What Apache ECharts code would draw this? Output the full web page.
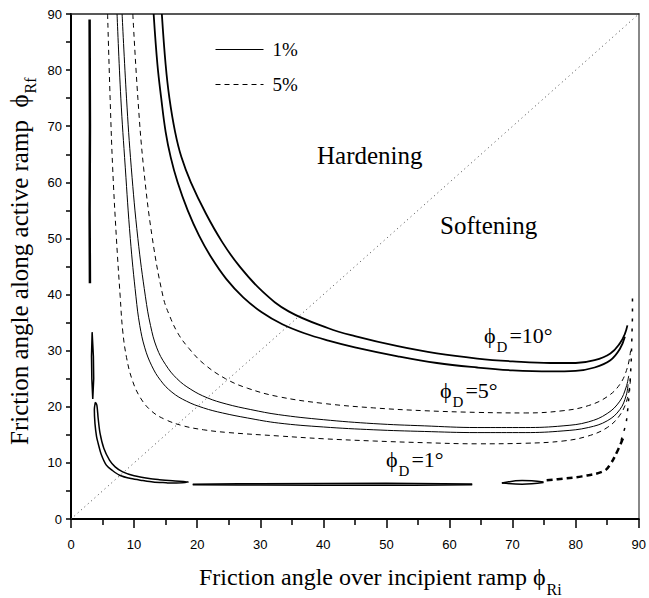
<!DOCTYPE html>
<html><head><meta charset="utf-8">
<script src="https://cdn.jsdelivr.net/npm/echarts@6/dist/echarts.min.js"></script>
<style>html,body{margin:0;padding:0;background:#fff}#c{width:649px;height:598px}</style>
</head><body><div id="c"></div><script>
// ---- axis ticks ----
const axisTickValues = [0,10,20,30,40,50,60,70,80,90];

// ---- phi_D = 10 deg (two bold solid curves) ----
const phi10Inner = [[13.1,90],[13.7,81],[14.3,75],[15.0,69],[15.8,64.5],[16.9,60],[18.5,55],[20.3,50.5],[22.3,46.5],[24.6,42.8],[27.3,39.5],[30.3,36.8],[33.5,34.7],[37,33.1],[40.8,31.8],[45,30.6],[51.8,29.0],[58,27.8],[64.4,27.0],[70,26.5],[76,26.3],[80,26.4],[83,27],[85.5,28.3],[87,30.3],[87.8,32.5]];
const phi10Outer = [[14.4,90],[15.0,81],[15.6,75],[16.5,69],[17.5,64.5],[19,60],[21.4,54.4],[24,49.3],[26.6,45.2],[30.3,40.6],[34.5,37.0],[40.8,34.0],[45,32.6],[51.8,30.8],[58,29.5],[64.4,28.6],[70,28.1],[76,27.8],[80,27.8],[83,28.3],[85.5,29.5],[87,31.3],[87.8,33],[88.2,34.5]];

// ---- phi_D = 5 deg ----
const phi5SolidL = [[7.3,90],[7.9,75],[8.6,62.7],[9.4,50],[10.3,39.6],[10.9,34.5],[11.7,30.5],[12.8,27.3],[14.2,24.7],[16,22.6],[18.3,21.0],[21,19.8],[24,18.9],[28,18.0],[32.9,17.1],[40,16.4],[48,15.9],[56,15.6],[64.4,15.4],[72,15.4],[78,15.7],[82,16.3],[85,17.5],[87,19.5],[88,22],[88.3,24]];
const phi5SolidR = [[8.1,90],[8.8,75],[9.55,62.7],[10.6,50],[11.8,39.6],[12.6,34.5],[13.6,30.5],[15,27.5],[16.8,25],[19,23.1],[21.6,21.6],[24.6,20.5],[28.5,19.5],[32.9,18.6],[40,17.7],[48,17.0],[56,16.6],[64.4,16.3],[72,16.3],[78,16.6],[82,17.3],[85,18.8],[87,21],[88,23.5],[88.4,25.5]];
const phi5DashL = [[5.8,90],[6.2,75],[6.6,62.7],[7.2,50],[7.8,39.6],[8.2,33.5],[8.8,28.8],[9.7,24.8],[11,21.6],[12.8,19.2],[15,17.7],[17.8,16.6],[21,15.9],[25,15.4],[32.9,14.8],[40,14.3],[48,13.9],[56,13.6],[64.4,13.4],[72,13.5],[78,13.9],[82,14.8],[85,16.3],[87,18.5],[88.2,21.5],[88.7,25]];
const phi5DashR = [[9.8,90],[10.6,75],[11.5,62.7],[12.9,50],[14.6,39.6],[15.6,36.3],[17,33],[18.7,30.4],[21,27.7],[24.5,25.0],[28,23.3],[32.9,21.8],[40,20.6],[48,19.8],[56,19.3],[64.4,19.0],[72,18.9],[78,19.3],[82,20.2],[85,21.8],[87,24],[88.2,27],[88.7,30]];

// ---- phi_D = 1 deg ----
const phi1Sliver = [[3.0,42],[2.95,55],[3.0,70],[2.95,89]];
const phi1SmallLoop = [[3.45,21.4],[3.3,25],[3.25,29],[3.35,33.3],[3.55,29],[3.6,25],[3.45,21.4]];
const phi1Loop = [[3.85,20.8],[4.1,20.3],[4.3,18],[4.6,15.3],[5.2,12.6],[6.1,10.5],[7,9.3],[8.2,8.4],[10,7.7],[12.4,7.2],[14,7],[16.1,6.8],[18.6,6.6],[16,6.4],[15.1,6.45],[13,6.6],[11.4,6.85],[9.5,7.2],[7.7,7.8],[6.5,8.7],[5.6,9.6],[4.8,11.5],[4.3,13.5],[4.05,14.7],[3.8,17],[3.7,19.5],[3.85,20.8]];
const phi1FlatUpper = [[19.3,6.2],[30,6.3],[50,6.35],[63.6,6.25]];
const phi1FlatLower = [[19.3,6.1],[30,6.05],[50,6.0],[63.6,6.1]];
const phi1RightUpper = [[68.3,6.4],[71.5,6.85],[74.9,6.6]];
const phi1RightLower = [[68.3,6.4],[71.5,6.2],[74.9,6.5]];
const phi1Dashes = [[75.4,6.9],[78,7.2],[81,7.6],[84.4,8.5],[85.4,9.6],[86.7,12.3],[87.5,14.4]];
const edgeBits = [[87.2,14],[88,17],[88.3,20],[88.6,24],[88.8,28],[88.9,32],[89,36],[89,40.5]];
const diagonal = [[0,0],[90,90]];

const SERIF = "'Liberation Serif','Times New Roman','DejaVu Serif',serif";
const SANS = "'Liberation Sans',Arial,sans-serif";

function ln(name, data, width, type, extra) {
  return Object.assign({
    type: 'line', name: name, data: data, showSymbol: false, symbol: 'none',
    smooth: 0.4, animation: false, silent: true,
    lineStyle: { color: '#000', width: width, type: type || 'solid' },
    itemStyle: { color: '#000' }
  }, extra || {});
}

const series = [
  ln('1%', phi5SolidL, 1),
  ln('5%', phi5DashL, 1, [5, 4]),
  ln('1%', phi5SolidR, 1),
  ln('5%', phi5DashR, 1, [5, 4]),
  ln('1%', phi10Inner, 1.8),
  ln('1%', phi10Outer, 1.8),
  ln('1%', phi1Sliver, 2.5, 'solid', {smooth: 0}),
  ln('1%', phi1SmallLoop, 1.5, 'solid', {smooth: 0}),
  ln('1%', phi1Loop, 1.5, 'solid', {smooth: 0.3}),
  ln('1%', phi1FlatUpper, 1.5),
  ln('1%', phi1FlatLower, 1.5),
  ln('1%', phi1RightUpper, 1.5),
  ln('1%', phi1RightLower, 1.5),
  ln('5%', phi1Dashes, 2.5, [6, 4]),
  ln('5%', edgeBits, 1.5, [3, 7], {smooth: 0}),
  ln('diag', diagonal, 1, [1, 3.5], {smooth: 0, lineStyle: {color: '#444', width: 1, type: [1, 3.5]}})
];

// measure text widths for sub-scripts
const ctx = document.createElement('canvas').getContext('2d');
function tw(t, size, fam) { ctx.font = size + 'px ' + fam; return ctx.measureText(t).width; }

function phiLabel(x, baseY, rest, size, subSize) {
  const els = [];
  const mid = baseY - 0.3375 * size;
  els.push({type: 'text', x: x, y: mid, style: {text: 'ϕ', fontSize: size, fontFamily: SERIF, fill: '#000', align: 'left', verticalAlign: 'middle'}});
  const x2 = x + tw('ϕ', size, SERIF) + 1;
  const subBase = baseY + 0.4 * size;
  els.push({type: 'text', x: x2, y: subBase - 0.3375 * subSize, style: {text: 'D', fontSize: subSize, fontFamily: SERIF, fill: '#000', align: 'left', verticalAlign: 'middle'}});
  const x3 = x2 + tw('D', subSize, SERIF) + 2;
  els.push({type: 'text', x: x3, y: mid, style: {text: rest, fontSize: size, fontFamily: SERIF, fill: '#000', align: 'left', verticalAlign: 'middle'}});
  return els;
}

const graphics = [];
graphics.push({type: 'text', x: 317, y: 155, style: {text: 'Hardening', fontSize: 25, fontFamily: SERIF, fill: '#000', align: 'left', verticalAlign: 'middle'}});
graphics.push({type: 'text', x: 440, y: 225, style: {text: 'Softening', fontSize: 25, fontFamily: SERIF, fill: '#000', align: 'left', verticalAlign: 'middle'}});
graphics.push(...phiLabel(484, 343, '=10°', 22, 15));
graphics.push(...phiLabel(440, 398, '=5°', 22, 15));
graphics.push(...phiLabel(386, 467, '=1°', 22, 15));

// x axis title
const xMain = 'Friction angle over incipient ramp ϕ';
graphics.push({type: 'text', x: 199, y: 585 - 0.3375 * 24, style: {text: xMain, fontSize: 24, fontFamily: SERIF, fill: '#000', align: 'left', verticalAlign: 'middle'}});
const xSubX = 199 + tw(xMain, 24, SERIF) + 1;
graphics.push({type: 'text', x: xSubX, y: 595 - 0.3375 * 16, style: {text: 'Ri', fontSize: 16, fontFamily: SERIF, fill: '#000', align: 'left', verticalAlign: 'middle'}});

// y axis title (rotated)
const yMain = 'Friction angle along active ramp  ϕ';
graphics.push({type: 'text', x: 28 - 0.3375 * 25, y: 445, rotation: Math.PI / 2, style: {text: yMain, fontSize: 25, fontFamily: SERIF, fill: '#000', align: 'left', verticalAlign: 'middle'}});
const ySubY = 445 - tw(yMain, 25, SERIF) - 1;
graphics.push({type: 'text', x: 36 - 0.3375 * 16, y: ySubY, rotation: Math.PI / 2, style: {text: 'Rf', fontSize: 16, fontFamily: SERIF, fill: '#000', align: 'left', verticalAlign: 'middle'}});

const chart = echarts.init(document.getElementById('c'), null, {renderer: 'svg'});
chart.setOption({
  animation: false,
  backgroundColor: '#fff',
  grid: {left: 71, right: 6, top: 14, bottom: 79, show: false},
  legend: {
    data: ['1%', '5%'], orient: 'vertical', left: 210, top: 35,
    itemWidth: 48, itemHeight: 14, itemGap: 16, selectedMode: false,
    itemStyle: {opacity: 0},
    lineStyle: {width: 1},
    textStyle: {fontFamily: SERIF, fontSize: 19, color: '#000', padding: [0, 0, 0, 4]}
  },
  xAxis: [{
    type: 'value', min: axisTickValues[0], max: axisTickValues[axisTickValues.length - 1], interval: 10, position: 'bottom',
    axisLine: {onZero: false, lineStyle: {color: '#000', width: 2}},
    axisTick: {length: 9, lineStyle: {color: '#000', width: 1.5}},
    minorTick: {show: true, splitNumber: 2, length: 6, lineStyle: {color: '#000', width: 1.5}},
    splitLine: {show: false},
    axisLabel: {margin: 19, fontSize: 13, color: '#000', fontFamily: SANS}
  }, {
    type: 'value', min: 0, max: 90, position: 'top',
    axisLine: {onZero: false, lineStyle: {color: '#222', width: 1.5}},
    axisTick: {show: false}, axisLabel: {show: false}, splitLine: {show: false}
  }],
  yAxis: [{
    type: 'value', min: axisTickValues[0], max: axisTickValues[axisTickValues.length - 1], interval: 10, position: 'left',
    axisLine: {onZero: false, lineStyle: {color: '#000', width: 2}},
    axisTick: {length: 5, lineStyle: {color: '#000', width: 1.5}},
    minorTick: {show: true, splitNumber: 2, length: 5, lineStyle: {color: '#000', width: 1.5}},
    splitLine: {show: false},
    axisLabel: {margin: 9, fontSize: 13, color: '#000', fontFamily: SANS}
  }, {
    type: 'value', min: 0, max: 90, position: 'right',
    axisLine: {show: true, onZero: false, lineStyle: {color: '#888', width: 2}},
    axisTick: {show: false}, axisLabel: {show: false}, splitLine: {show: false}
  }],
  series: series,
  graphic: graphics
});
</script></body></html>
